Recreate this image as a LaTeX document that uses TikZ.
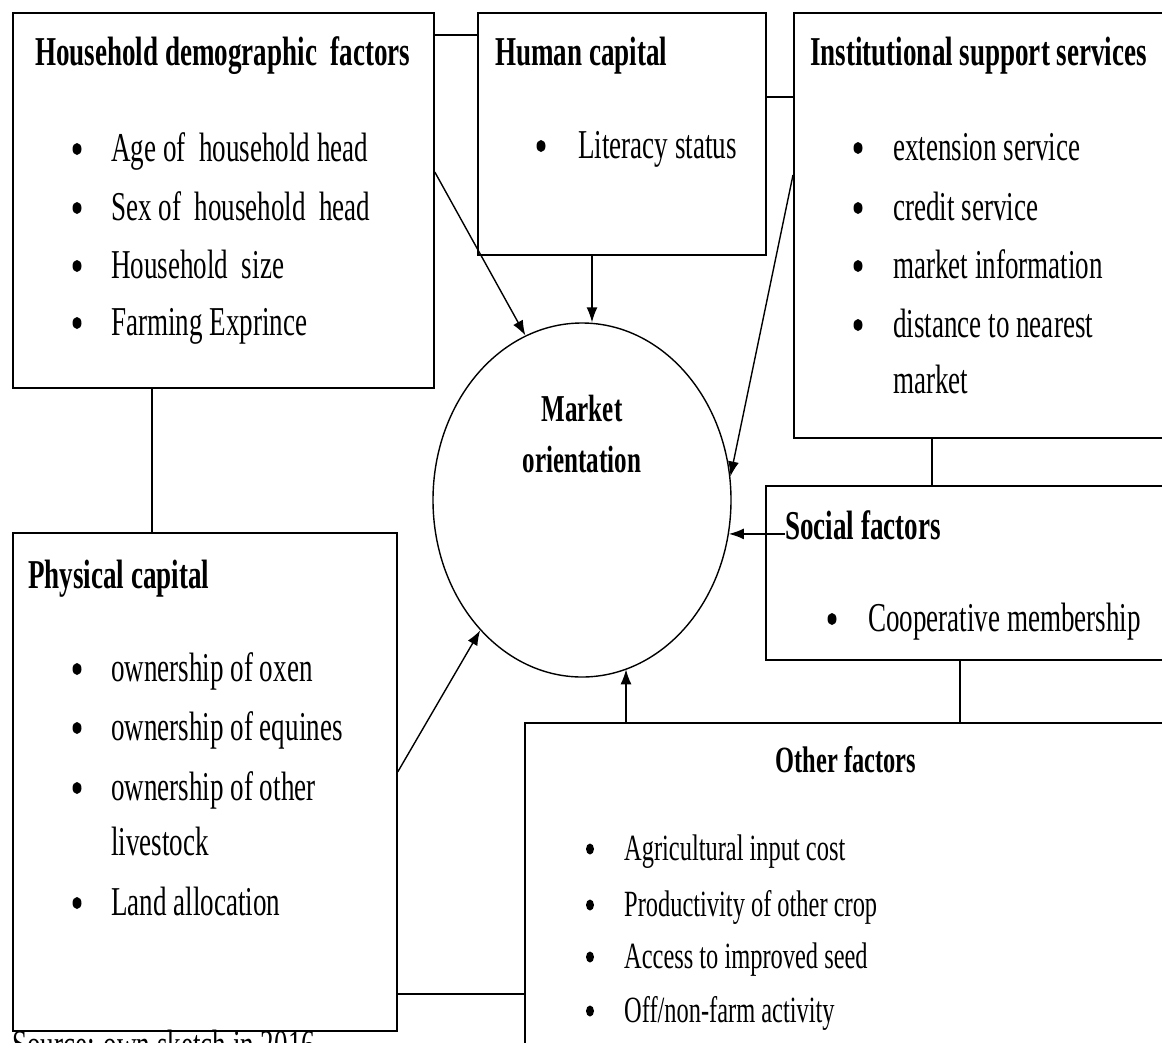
\documentclass[tikz,border=0pt]{standalone}
\usepackage{fontspec}
\setmainfont[FakeStretch=0.66]{Liberation Serif}
\usetikzlibrary{arrows.meta,shapes.geometric}
\newcommand{\bigfont}{\fontsize{41}{57}\selectfont}
\newcommand{\midfont}{\fontsize{37}{52}\selectfont}
\tikzset{box/.style={draw,line width=1.8pt,anchor=north west,inner sep=0pt},
  head/.style={anchor=base west,inner sep=0pt,font=\bigfont\bfseries},
  entry/.style={anchor=base west,inner sep=0pt,font=\bigfont},
  dot/.style={ellipse,fill,inner sep=0pt,minimum width=9pt,minimum height=12pt},
  smalldot/.style={dot,minimum width=8pt,minimum height=11pt},
  link/.style={line width=1.4pt},
  arr/.style={-{Latex[length=15pt,width=11pt]},line width=1.4pt}}

\begin{document}
\begin{tikzpicture}[x=1pt,y=-1pt]
    \useasboundingbox (0,0) rectangle (1162,1042);
    % boxes
    \node[box,minimum width=421pt,minimum height=375pt] (hh) at (12,12) {};
    \node[box,minimum width=288pt,minimum height=242pt] (hc) at (477,12) {};
    \node[box,minimum width=390pt,minimum height=425pt] (inst) at (793,12) {};
    \node[box,minimum width=410pt,minimum height=174pt] (soc) at (765,485) {};
    \node[box,minimum width=384pt,minimum height=498pt] (phys) at (12,532) {};
    \node[box,minimum width=660pt,minimum height=420pt] (oth) at (524,722) {};
    \node[ellipse,draw,line width=1.4pt,minimum width=298pt,minimum height=354pt,
      inner sep=0pt] (mo) at (582,500) {};
    % titles
    \node[head] (hhT) at (35,65) {Household demographic \ factors};
    \node[head] (hcT) at (495,65) {Human capital};
    \node[head] (instT) at (810,65) {Institutional support services};
    \node[head] (socT) at (785,539) {Social factors};
    \node[head] (physT) at (28,588) {Physical capital};
    \node[anchor=base,inner sep=0pt,font=\midfont\bfseries] (othT) at (846,772) {Other factors};
    \node[anchor=base,inner sep=0pt,font=\fontsize{38}{50}\selectfont\bfseries]
      (moT) at (582,421) {Market};
    \node[anchor=base,inner sep=0pt,font=\fontsize{38}{50}\selectfont\bfseries]
      (moT2) at (582,472) {orientation};
    % lists
    \foreach \t/\y [count=\i] in {Age of \ household head/161,Sex of \ household \ head/220,
        Household \ size/278,Farming Exprince/335}{
      \node[dot] (hhb\i) at (77,{\y-12}) {};
      \node[entry] (hhI\i) at (111,\y) {\t};}
    \node[dot] (hcb1) at (541,146) {};
    \node[entry] (hcI1) at (578,158) {Literacy status};
    \foreach \t/\y [count=\i] in {extension service/160,credit service/220,
        market information/278,distance to nearest/337}{
      \node[dot] (instb\i) at (858,{\y-12}) {};
      \node[entry] (instI\i) at (893,\y) {\t};}
    \node[entry] (instI5) at (893,393) {market};
    \node[dot] (socb1) at (832,619) {};
    \node[entry] (socI1) at (868,631) {Cooperative membership};
    \foreach \t/\y [count=\i] in {ownership of oxen/681,ownership of equines/740,
        ownership of other/800,Land allocation/915}{
      \node[dot] (physb\i) at (77,{\y-12}) {};
      \node[entry] (physI\i) at (111,\y) {\t};}
    \node[entry] (physI5) at (111,855) {livestock};
    \foreach \t/\y [count=\i] in {Agricultural input cost/860,Productivity of other crop/916,
        Access to improved seed/968,{Off{/}non-farm activity}/1022}{
      \node[smalldot] (othb\i) at (590,{\y-11}) {};
      \node[entry,font=\midfont] (othI\i) at (624,\y) {\t};}
    \node[entry] (src) at (12,1058) {Source: own sketch in 2016};
    % plain links between boxes
    \draw[link] ([yshift=-23pt]hh.north east) -- ([yshift=-23pt]hc.north west);
    \draw[link] ([yshift=-85pt]hc.north east) -- ([yshift=-85pt]inst.north west);
    \draw[link] ([xshift=140pt]hh.south west) -- ([xshift=140pt]phys.north west);
    \draw[link] ([xshift=139pt]inst.south west) -- ([xshift=139pt]inst.south west |- soc.north);
    \draw[link] ([xshift=195pt]soc.south west) -- ([xshift=195pt]soc.south west |- oth.north);
    \draw[link] ([yshift=38pt]phys.south east) -- ([yshift=38pt]phys.south east -| oth.west);
    % arrows into market orientation
    \draw[arr] ([yshift=-160pt]hh.north east) -- (mo.109);
    \draw[arr] ([xshift=115pt]hc.south west) -- ([xshift=115pt]hc.south west |- mo.north);
    \draw[arr] ([yshift=-163pt]inst.north west) -- (mo.9);
    \draw[arr] (socT.west |- mo.-13) -- (mo.-13);
    \draw[arr] ([yshift=260pt]phys.south east) -- (mo.232);
    \draw[arr] ([xshift=102pt]oth.north west) -- ([xshift=102pt]oth.north west |- mo.-75);
  \end{tikzpicture}
\end{document}
